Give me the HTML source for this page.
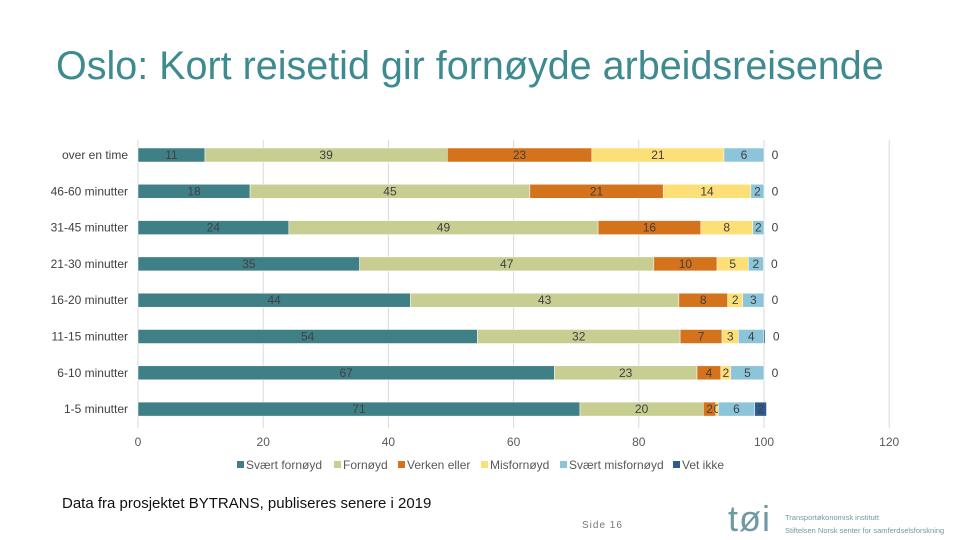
<!DOCTYPE html>
<html><head><meta charset="utf-8"><style>
body{margin:0;width:960px;height:540px;background:#fff;font-family:"Liberation Sans",sans-serif;overflow:hidden;position:relative}
.t{position:absolute}
</style></head><body>
<div class="t" style="left:56px;top:44px;font-size:39.5px;color:#3e8a91;white-space:nowrap">Oslo: Kort reisetid gir fornøyde arbeidsreisende</div>
<svg class="t" style="left:0;top:0" width="960" height="540" id="chart"></svg>
<div class="t" style="left:62px;top:495px;font-size:15px;color:#111">Data fra prosjektet BYTRANS, publiseres senere i 2019</div>
<div class="t" style="left:582px;top:520px;font-size:10px;color:#777;letter-spacing:1px">Side 16</div>
<div class="t" style="left:728px;top:498px;font-size:36px;color:#6f9aa2;letter-spacing:1px">tøi</div>
<div class="t" style="left:785px;top:511px;font-size:7.5px;color:#6f9aa2;line-height:13px;white-space:nowrap">Transportøkonomisk institutt<br>Stiftelsen Norsk senter for samferdselsforskning</div>
<script>
const categories=["over en time","46-60 minutter","31-45 minutter","21-30 minutter","16-20 minutter","11-15 minutter","6-10 minutter","1-5 minutter"];
const seriesNames=["Svært fornøyd","Fornøyd","Verken eller","Misfornøyd","Svært misfornøyd","Vet ikke"];
const sVeryHappy=[10.7,17.9,24.1,35.4,43.5,54.2,66.5,70.6];
const sHappy=[38.7,44.7,49.4,47.0,42.9,32.4,22.8,19.7];
const sNeutral=[23.1,21.3,16.4,10.1,7.8,6.7,3.8,2.0];
const sUnhappy=[21.1,14.0,8.3,5.0,2.4,2.6,1.6,0.4];
const sVeryUnhappy=[6.4,2.1,1.8,2.4,3.4,4.1,5.3,5.8];
const sDontKnow=[0,0,0,0,0,0.2,0,1.9];
const xTicks=[0,20,40,60,80,100,120];
const series=[sVeryHappy,sHappy,sNeutral,sUnhappy,sVeryUnhappy,sDontKnow];
const colors=["#3f8087","#c8cd91","#d5731d","#fddf77","#8cc5da","#2f5b8c"];
const NS="http://www.w3.org/2000/svg";
const svg=document.getElementById('chart');
const x=v=>138+v*6.26;
const yc=i=>155+i*36.3;
function mk(tag,at,txt){const e=document.createElementNS(NS,tag);for(const k in at)e.setAttribute(k,at[k]);if(txt!==undefined)e.textContent=txt;svg.appendChild(e);return e;}
xTicks.forEach(t=>{
 const g=mk('line',{x1:x(t),x2:x(t),y1:140,y2:428,stroke:'#d9d9d9','stroke-width':1});
 
 
 const l=mk('text',{x:x(t),y:446,'font-size':12,fill:'#595959','text-anchor':'middle'},t);
 
 
});
categories.forEach((c,i)=>{
 const l=mk('text',{x:128,y:yc(i)+4,'font-size':12,fill:'#404040','text-anchor':'end'},c);
 
 
 let acc=0;
 series.forEach((s,j)=>{
  const v=s[i];
  const r=mk('rect',{x:x(acc),y:yc(i)-7,width:Math.max(v*6.26,0),height:14,fill:colors[j],stroke:'#fff','stroke-width':0.5});
  
  
  const lx=(v<1&&j===5)?x(acc+v)+11:x(acc+v/2);
  if(v>0||j===5){
   const tx=mk('text',{x:lx,y:yc(i)+4,'font-size':12,fill:'#404040','text-anchor':'middle'},Math.round(v));
   
   
  }
  acc+=v;
 });
});
let lx=237;
const widths=[97,64,83,79,113,60];
seriesNames.forEach((n,j)=>{
 const r=mk('rect',{x:lx,y:461,width:7,height:7,fill:colors[j]});
 
 
 const t=mk('text',{x:lx+9,y:469,'font-size':12,fill:'#595959'},n);
 
 
 lx+=widths[j];
});
</script>
</body></html>
